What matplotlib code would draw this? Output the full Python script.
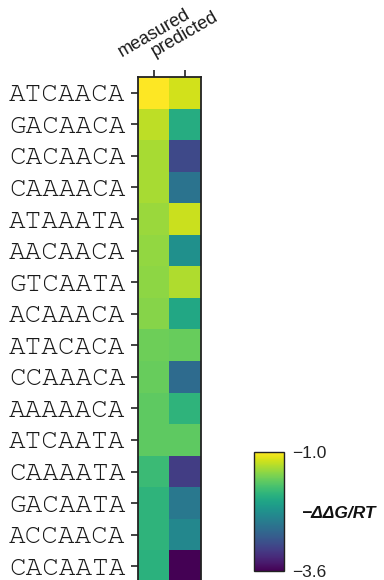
import numpy as np
import matplotlib.pyplot as plt

# sequences (rows) and the two columns
seqs = ["ATCAACA", "GACAACA", "CACAACA", "CAAAACA", "ATAAATA", "AACAACA",
        "GTCAATA", "ACAAACA", "ATACACA", "CCAAACA", "AAAAACA", "ATCAATA",
        "CAAAATA", "GACAATA", "ACCAACA", "CACAATA"]
cols = ["measured", "predicted"]

# -ddG/RT values
measured = [-1.00, -1.26, -1.34, -1.34, -1.39, -1.42, -1.44, -1.47,
            -1.57, -1.60, -1.65, -1.65, -1.83, -1.91, -1.91, -1.94]
predicted = [-1.18, -1.99, -3.03, -2.61, -1.21, -2.30, -1.31, -2.04,
             -1.60, -2.69, -1.91, -1.65, -3.13, -2.56, -2.40, -3.60]

vmin, vmax = -3.6, -1.0

data = np.column_stack([measured, predicted])

fig = plt.figure(figsize=(3.84, 5.8), dpi=100)
ax = fig.add_axes([138/384, 1 - 582/580, 63/384, 505/580])
im = ax.imshow(data, cmap='viridis', vmin=vmin, vmax=vmax, aspect='auto',
               interpolation='nearest')

ax.set_yticks(range(len(seqs)))
ax.set_yticklabels(seqs, family=['FreeMono', 'Liberation Mono'], fontsize=20,
                   color='#1a1a1a')
ax.set_xticks(range(len(cols)))
ax.set_xticklabels(cols, rotation=30, ha='center', fontsize=13,
                   family='Liberation Sans', color='#1a1a1a')
ax.xaxis.tick_top()
ax.tick_params(axis='both', length=5, width=1.2, color='#222222', pad=4)
ax.tick_params(axis='x', pad=7)
for s in ax.spines.values():
    s.set_linewidth(1.3)
    s.set_color('#222222')

# colorbar
cax = fig.add_axes([254/384, 1 - 571/580, 30/384, 119/580])
cb = fig.colorbar(im, cax=cax, ticks=[vmin, vmax])
cb.ax.set_yticklabels(["\u22123.6", "\u22121.0"], family='Liberation Sans',
                      fontsize=12.5, color='#222222')
cb.ax.tick_params(length=0, pad=6)
cb.outline.set_linewidth(1.0)
cb.outline.set_edgecolor('#222222')
fig.text(302/384, 1 - 513/580, "\u2212\u0394\u0394G/RT", family='Liberation Sans',
         fontsize=12.5, fontweight='bold', fontstyle='italic', va='center',
         ha='left', color='#111111')

fig.savefig('out.png', dpi=100)
